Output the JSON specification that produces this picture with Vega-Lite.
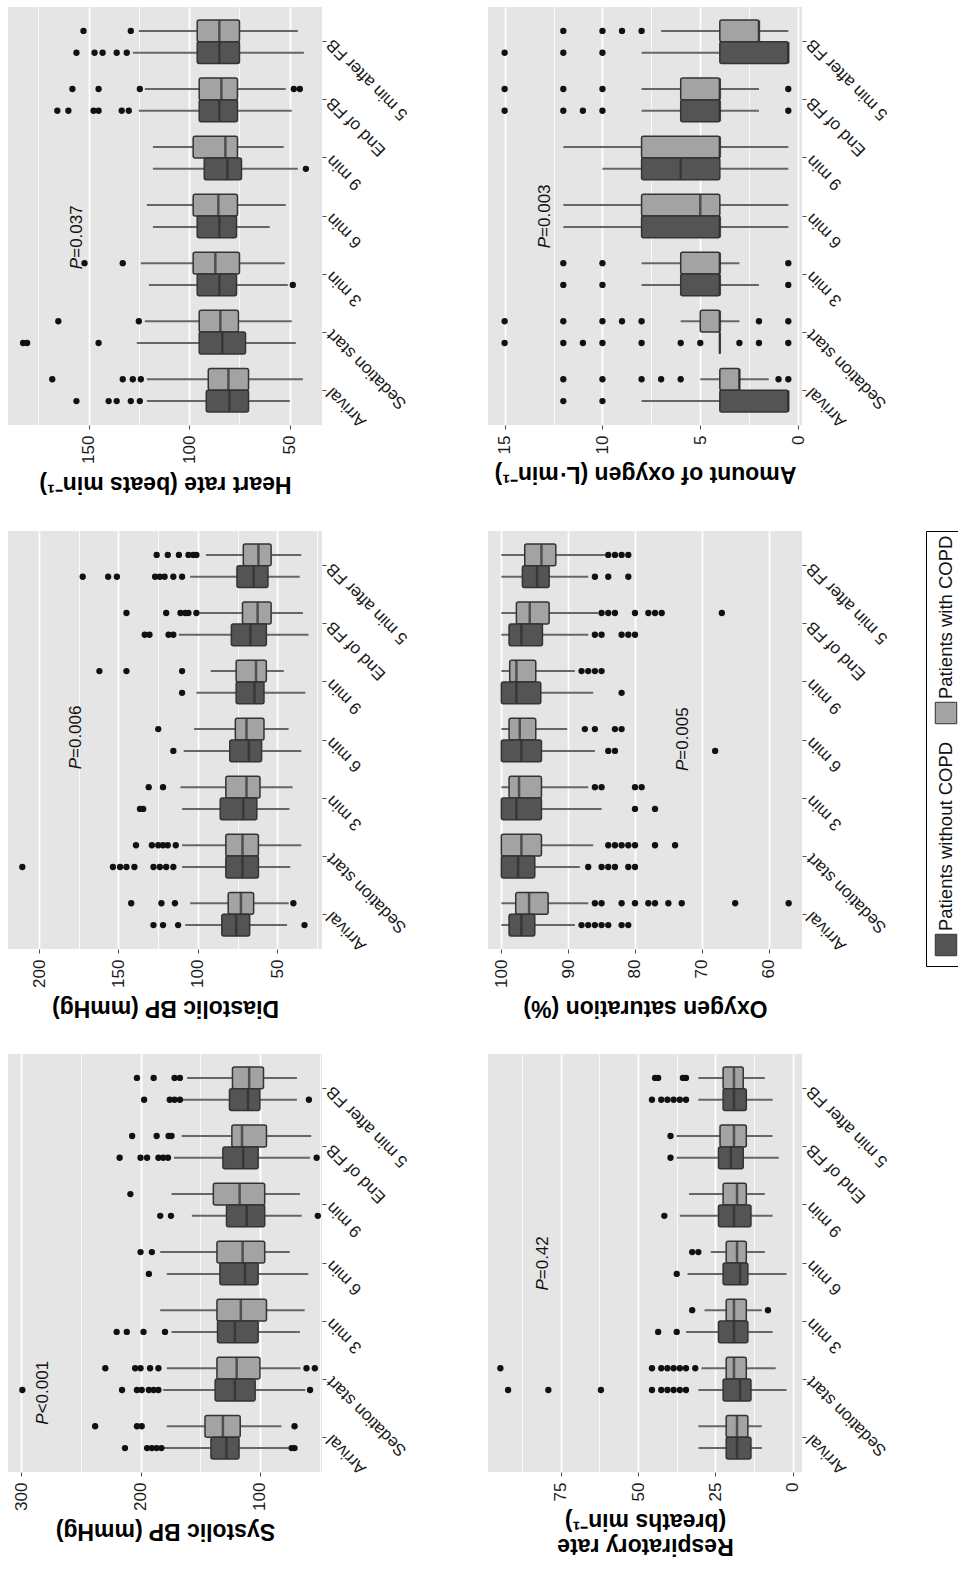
{
"$schema": "https://vega.github.io/schema/vega-lite/v6.json",
"background": "white",
"padding": {"left": 8, "top": 7, "right": 0, "bottom": 30},
"datasets": {
"hr_box": [
{"t":"5 min after FB","g":"with","lo":46,"q1":75,"med":85,"q3":96,"hi":125},
{"t":"5 min after FB","g":"without","lo":43,"q1":75,"med":85,"q3":96,"hi":128},
{"t":"End of FB","g":"with","lo":52,"q1":76,"med":84,"q3":95,"hi":122},
{"t":"End of FB","g":"without","lo":49,"q1":76,"med":85,"q3":95,"hi":125},
{"t":"9 min","g":"with","lo":53,"q1":76,"med":82,"q3":98,"hi":118},
{"t":"9 min","g":"without","lo":46,"q1":74,"med":81,"q3":92.5,"hi":118},
{"t":"6 min","g":"with","lo":52,"q1":76,"med":85.5,"q3":98,"hi":121},
{"t":"6 min","g":"without","lo":60,"q1":76.5,"med":85,"q3":96,"hi":118},
{"t":"3 min","g":"with","lo":52.5,"q1":75,"med":87,"q3":98,"hi":124},
{"t":"3 min","g":"without","lo":51,"q1":76.5,"med":85,"q3":96,"hi":120},
{"t":"Sedation start","g":"with","lo":49,"q1":75.5,"med":84.5,"q3":95,"hi":122},
{"t":"Sedation start","g":"without","lo":47,"q1":72,"med":83.5,"q3":95,"hi":126},
{"t":"Arrival","g":"with","lo":43.5,"q1":70.5,"med":80.5,"q3":90.5,"hi":121},
{"t":"Arrival","g":"without","lo":50,"q1":70.5,"med":80,"q3":91.5,"hi":121}
],
"hr_out": [
{"t":"5 min after FB","g":"with","v":129},{"t":"5 min after FB","g":"with","v":152.5},
{"t":"5 min after FB","g":"without","v":131},{"t":"5 min after FB","g":"without","v":136},{"t":"5 min after FB","g":"without","v":143},{"t":"5 min after FB","g":"without","v":147},{"t":"5 min after FB","g":"without","v":156},
{"t":"End of FB","g":"with","v":124.5},{"t":"End of FB","g":"with","v":145},{"t":"End of FB","g":"with","v":158},{"t":"End of FB","g":"with","v":48},{"t":"End of FB","g":"with","v":45},
{"t":"End of FB","g":"without","v":130},{"t":"End of FB","g":"without","v":133.5},{"t":"End of FB","g":"without","v":145},{"t":"End of FB","g":"without","v":147.5},{"t":"End of FB","g":"without","v":160},{"t":"End of FB","g":"without","v":165.5},
{"t":"9 min","g":"without","v":42},
{"t":"3 min","g":"with","v":133},{"t":"3 min","g":"with","v":152},{"t":"3 min","g":"without","v":48.5},
{"t":"Sedation start","g":"with","v":125},{"t":"Sedation start","g":"with","v":165},
{"t":"Sedation start","g":"without","v":145},{"t":"Sedation start","g":"without","v":180.5},{"t":"Sedation start","g":"without","v":182.5},
{"t":"Arrival","g":"with","v":124},{"t":"Arrival","g":"with","v":128},{"t":"Arrival","g":"with","v":133},{"t":"Arrival","g":"with","v":168},
{"t":"Arrival","g":"without","v":124.5},{"t":"Arrival","g":"without","v":129},{"t":"Arrival","g":"without","v":136},{"t":"Arrival","g":"without","v":140},{"t":"Arrival","g":"without","v":156}
],
"hr_p": [{"pos":3.28,"v":155.8,"rest":"=0.037"}],
"dbp_box": [
{"t":"5 min after FB","g":"with","lo":35,"q1":54,"med":62,"q3":71.5,"hi":95},
{"t":"5 min after FB","g":"without","lo":36,"q1":56,"med":65,"q3":75.5,"hi":105},
{"t":"End of FB","g":"with","lo":34,"q1":54,"med":62.5,"q3":72,"hi":99},
{"t":"End of FB","g":"without","lo":30.5,"q1":57,"med":67,"q3":79,"hi":112},
{"t":"9 min","g":"with","lo":46,"q1":57,"med":63.5,"q3":76,"hi":92},
{"t":"9 min","g":"without","lo":32.5,"q1":58.5,"med":64.5,"q3":76,"hi":101},
{"t":"6 min","g":"with","lo":43,"q1":58.5,"med":69.5,"q3":76.5,"hi":102.5},
{"t":"6 min","g":"without","lo":35,"q1":60,"med":68,"q3":80,"hi":109},
{"t":"3 min","g":"with","lo":40.5,"q1":61,"med":69.5,"q3":82.5,"hi":111},
{"t":"3 min","g":"without","lo":42.5,"q1":63,"med":71.5,"q3":86,"hi":110},
{"t":"Sedation start","g":"with","lo":35,"q1":62,"med":72,"q3":82.5,"hi":110},
{"t":"Sedation start","g":"without","lo":42,"q1":62,"med":72,"q3":82.5,"hi":110},
{"t":"Arrival","g":"with","lo":43,"q1":65,"med":73,"q3":81,"hi":105},
{"t":"Arrival","g":"without","lo":44,"q1":67.5,"med":76,"q3":85,"hi":108}
],
"dbp_out": [
{"t":"5 min after FB","g":"with","v":101},{"t":"5 min after FB","g":"with","v":103},{"t":"5 min after FB","g":"with","v":106},{"t":"5 min after FB","g":"with","v":112},{"t":"5 min after FB","g":"with","v":119},{"t":"5 min after FB","g":"with","v":126},
{"t":"5 min after FB","g":"without","v":110},{"t":"5 min after FB","g":"without","v":115.5},{"t":"5 min after FB","g":"without","v":121},{"t":"5 min after FB","g":"without","v":124},{"t":"5 min after FB","g":"without","v":127},{"t":"5 min after FB","g":"without","v":151},{"t":"5 min after FB","g":"without","v":156.5},{"t":"5 min after FB","g":"without","v":172.5},
{"t":"End of FB","g":"with","v":101},{"t":"End of FB","g":"with","v":106},{"t":"End of FB","g":"with","v":108},{"t":"End of FB","g":"with","v":111},{"t":"End of FB","g":"with","v":120},{"t":"End of FB","g":"with","v":145},
{"t":"End of FB","g":"without","v":115.5},{"t":"End of FB","g":"without","v":118.5},{"t":"End of FB","g":"without","v":130.5},{"t":"End of FB","g":"without","v":133.5},
{"t":"9 min","g":"with","v":110},{"t":"9 min","g":"with","v":145},{"t":"9 min","g":"with","v":162},{"t":"9 min","g":"without","v":110},
{"t":"6 min","g":"with","v":125},{"t":"6 min","g":"without","v":115.5},
{"t":"3 min","g":"with","v":122},{"t":"3 min","g":"with","v":131},{"t":"3 min","g":"without","v":134.5},{"t":"3 min","g":"without","v":136.5},
{"t":"Sedation start","g":"with","v":114},{"t":"Sedation start","g":"with","v":119},{"t":"Sedation start","g":"with","v":122},{"t":"Sedation start","g":"with","v":125},{"t":"Sedation start","g":"with","v":129},{"t":"Sedation start","g":"with","v":139},
{"t":"Sedation start","g":"without","v":115.5},{"t":"Sedation start","g":"without","v":120},{"t":"Sedation start","g":"without","v":124},{"t":"Sedation start","g":"without","v":128},{"t":"Sedation start","g":"without","v":140},{"t":"Sedation start","g":"without","v":145},{"t":"Sedation start","g":"without","v":149},{"t":"Sedation start","g":"without","v":153.5},{"t":"Sedation start","g":"without","v":210.5},
{"t":"Arrival","g":"with","v":114.5},{"t":"Arrival","g":"with","v":123},{"t":"Arrival","g":"with","v":142},{"t":"Arrival","g":"with","v":40},
{"t":"Arrival","g":"without","v":112.5},{"t":"Arrival","g":"without","v":122},{"t":"Arrival","g":"without","v":128},{"t":"Arrival","g":"without","v":33}
],
"dbp_p": [{"pos":3.69,"v":176.5,"rest":"=0.006"}],
"sbp_box": [
{"t":"5 min after FB","g":"with","lo":69,"q1":97,"med":109,"q3":123,"hi":161},
{"t":"5 min after FB","g":"without","lo":69,"q1":100,"med":110,"q3":125.5,"hi":166},
{"t":"End of FB","g":"with","lo":57,"q1":94.5,"med":115,"q3":123.5,"hi":165.5},
{"t":"End of FB","g":"without","lo":58,"q1":101.5,"med":114,"q3":131,"hi":172},
{"t":"9 min","g":"with","lo":66.5,"q1":96,"med":117,"q3":139,"hi":174},
{"t":"9 min","g":"without","lo":65,"q1":96,"med":111,"q3":128,"hi":157},
{"t":"6 min","g":"with","lo":75,"q1":96,"med":114.5,"q3":136,"hi":183.5},
{"t":"6 min","g":"without","lo":59.5,"q1":101.5,"med":112.5,"q3":133.5,"hi":178},
{"t":"3 min","g":"with","lo":62.5,"q1":94.5,"med":116,"q3":136,"hi":183.5},
{"t":"3 min","g":"without","lo":66.5,"q1":101.5,"med":121,"q3":135.5,"hi":174},
{"t":"Sedation start","g":"with","lo":66,"q1":100,"med":119.5,"q3":136,"hi":178},
{"t":"Sedation start","g":"without","lo":62,"q1":104,"med":121,"q3":137.5,"hi":181},
{"t":"Arrival","g":"with","lo":82,"q1":116.5,"med":131,"q3":146,"hi":178},
{"t":"Arrival","g":"without","lo":76,"q1":117.5,"med":128,"q3":141,"hi":181}
],
"sbp_out": [
{"t":"5 min after FB","g":"with","v":167},{"t":"5 min after FB","g":"with","v":171.5},{"t":"5 min after FB","g":"with","v":189},{"t":"5 min after FB","g":"with","v":203},
{"t":"5 min after FB","g":"without","v":59},{"t":"5 min after FB","g":"without","v":167},{"t":"5 min after FB","g":"without","v":171.5},{"t":"5 min after FB","g":"without","v":175.5},{"t":"5 min after FB","g":"without","v":197},
{"t":"End of FB","g":"with","v":174},{"t":"End of FB","g":"with","v":176.5},{"t":"End of FB","g":"with","v":186.5},{"t":"End of FB","g":"with","v":207},
{"t":"End of FB","g":"without","v":52.5},{"t":"End of FB","g":"without","v":177},{"t":"End of FB","g":"without","v":181},{"t":"End of FB","g":"without","v":185},{"t":"End of FB","g":"without","v":194.5},{"t":"End of FB","g":"without","v":200},{"t":"End of FB","g":"without","v":217.5},
{"t":"9 min","g":"with","v":208.5},{"t":"9 min","g":"without","v":51.5},{"t":"9 min","g":"without","v":174.5},{"t":"9 min","g":"without","v":183.5},
{"t":"6 min","g":"with","v":190.5},{"t":"6 min","g":"with","v":200},{"t":"6 min","g":"without","v":193},
{"t":"3 min","g":"without","v":179.5},{"t":"3 min","g":"without","v":197.5},{"t":"3 min","g":"without","v":211.5},{"t":"3 min","g":"without","v":220},
{"t":"Sedation start","g":"with","v":54},{"t":"Sedation start","g":"with","v":61},{"t":"Sedation start","g":"with","v":185},{"t":"Sedation start","g":"with","v":192},{"t":"Sedation start","g":"with","v":200},{"t":"Sedation start","g":"with","v":204.5},{"t":"Sedation start","g":"with","v":229.5},
{"t":"Sedation start","g":"without","v":58},{"t":"Sedation start","g":"without","v":185},{"t":"Sedation start","g":"without","v":189},{"t":"Sedation start","g":"without","v":193},{"t":"Sedation start","g":"without","v":199},{"t":"Sedation start","g":"without","v":203},{"t":"Sedation start","g":"without","v":215.5},{"t":"Sedation start","g":"without","v":299},
{"t":"Arrival","g":"with","v":71},{"t":"Arrival","g":"with","v":199},{"t":"Arrival","g":"with","v":203},{"t":"Arrival","g":"with","v":238},
{"t":"Arrival","g":"without","v":71},{"t":"Arrival","g":"without","v":73.5},{"t":"Arrival","g":"without","v":182.5},{"t":"Arrival","g":"without","v":186.5},{"t":"Arrival","g":"without","v":190.5},{"t":"Arrival","g":"without","v":194.5},{"t":"Arrival","g":"without","v":213}
],
"sbp_p": [{"pos":1.41,"v":282,"rest":"<0.001"}],
"o2_box": [
{"t":"5 min after FB","g":"with","lo":0.5,"q1":2,"med":2,"q3":4,"hi":7},
{"t":"5 min after FB","g":"without","lo":0.5,"q1":0.5,"med":0.5,"q3":4,"hi":8},
{"t":"End of FB","g":"with","lo":2,"q1":4,"med":4,"q3":6,"hi":8},
{"t":"End of FB","g":"without","lo":2,"q1":4,"med":4,"q3":6,"hi":8},
{"t":"9 min","g":"with","lo":0.5,"q1":4,"med":4,"q3":8,"hi":12},
{"t":"9 min","g":"without","lo":0.5,"q1":4,"med":6,"q3":8,"hi":10},
{"t":"6 min","g":"with","lo":0.5,"q1":4,"med":5,"q3":8,"hi":12},
{"t":"6 min","g":"without","lo":0.5,"q1":4,"med":4,"q3":8,"hi":12},
{"t":"3 min","g":"with","lo":3,"q1":4,"med":4,"q3":6,"hi":8},
{"t":"3 min","g":"without","lo":2,"q1":4,"med":4,"q3":6,"hi":8},
{"t":"Sedation start","g":"with","lo":3,"q1":4,"med":4,"q3":5,"hi":6},
{"t":"Sedation start","g":"without","lo":4,"q1":4,"med":4,"q3":4,"hi":4},
{"t":"Arrival","g":"with","lo":1.5,"q1":3,"med":3,"q3":4,"hi":5},
{"t":"Arrival","g":"without","lo":0.5,"q1":0.5,"med":0.5,"q3":4,"hi":8}
],
"o2_out": [
{"t":"5 min after FB","g":"with","v":8},{"t":"5 min after FB","g":"with","v":9},{"t":"5 min after FB","g":"with","v":10},{"t":"5 min after FB","g":"with","v":12},
{"t":"5 min after FB","g":"without","v":10},{"t":"5 min after FB","g":"without","v":12},{"t":"5 min after FB","g":"without","v":15},
{"t":"End of FB","g":"with","v":0.5},{"t":"End of FB","g":"with","v":10},{"t":"End of FB","g":"with","v":12},{"t":"End of FB","g":"with","v":15},
{"t":"End of FB","g":"without","v":0.5},{"t":"End of FB","g":"without","v":10},{"t":"End of FB","g":"without","v":11},{"t":"End of FB","g":"without","v":12},{"t":"End of FB","g":"without","v":15},
{"t":"3 min","g":"with","v":0.5},{"t":"3 min","g":"with","v":10},{"t":"3 min","g":"with","v":12},
{"t":"3 min","g":"without","v":0.5},{"t":"3 min","g":"without","v":10},{"t":"3 min","g":"without","v":12},
{"t":"Sedation start","g":"with","v":0.5},{"t":"Sedation start","g":"with","v":2},{"t":"Sedation start","g":"with","v":8},{"t":"Sedation start","g":"with","v":9},{"t":"Sedation start","g":"with","v":10},{"t":"Sedation start","g":"with","v":12},{"t":"Sedation start","g":"with","v":15},
{"t":"Sedation start","g":"without","v":0.5},{"t":"Sedation start","g":"without","v":2},{"t":"Sedation start","g":"without","v":3},{"t":"Sedation start","g":"without","v":5},{"t":"Sedation start","g":"without","v":6},{"t":"Sedation start","g":"without","v":8},{"t":"Sedation start","g":"without","v":10},{"t":"Sedation start","g":"without","v":11},{"t":"Sedation start","g":"without","v":12},{"t":"Sedation start","g":"without","v":15},
{"t":"Arrival","g":"with","v":0.5},{"t":"Arrival","g":"with","v":1},{"t":"Arrival","g":"with","v":6},{"t":"Arrival","g":"with","v":7},{"t":"Arrival","g":"with","v":8},{"t":"Arrival","g":"with","v":10},{"t":"Arrival","g":"with","v":12},
{"t":"Arrival","g":"without","v":10},{"t":"Arrival","g":"without","v":12}
],
"o2_p": [{"pos":3.64,"v":12.95,"rest":"=0.003"}],
"spo2_box": [
{"t":"5 min after FB","g":"with","lo":84.5,"q1":91.85,"med":94,"q3":96.5,"hi":100},
{"t":"5 min after FB","g":"without","lo":87,"q1":92.85,"med":94.65,"q3":96.85,"hi":100},
{"t":"End of FB","g":"with","lo":85.5,"q1":92.85,"med":95.75,"q3":97.75,"hi":100},
{"t":"End of FB","g":"without","lo":87,"q1":93.85,"med":97,"q3":98.85,"hi":100},
{"t":"9 min","g":"with","lo":89,"q1":94.85,"med":97.75,"q3":98.75,"hi":100},
{"t":"9 min","g":"without","lo":86.25,"q1":94.1,"med":97.75,"q3":100,"hi":100},
{"t":"6 min","g":"with","lo":90.15,"q1":94.85,"med":97.25,"q3":98.85,"hi":100},
{"t":"6 min","g":"without","lo":86,"q1":94,"med":97,"q3":100,"hi":100},
{"t":"3 min","g":"with","lo":87,"q1":94,"med":97.35,"q3":98.85,"hi":100},
{"t":"3 min","g":"without","lo":85,"q1":94,"med":97.75,"q3":100,"hi":100},
{"t":"Sedation start","g":"with","lo":86.25,"q1":94,"med":97,"q3":100,"hi":100},
{"t":"Sedation start","g":"without","lo":88.25,"q1":95,"med":97.5,"q3":100,"hi":100},
{"t":"Arrival","g":"with","lo":87,"q1":93,"med":95.85,"q3":97.85,"hi":100},
{"t":"Arrival","g":"without","lo":89,"q1":95,"med":97,"q3":98.85,"hi":100}
],
"spo2_out": [
{"t":"5 min after FB","g":"with","v":81},{"t":"5 min after FB","g":"with","v":82},{"t":"5 min after FB","g":"with","v":83},{"t":"5 min after FB","g":"with","v":84},
{"t":"5 min after FB","g":"without","v":81},{"t":"5 min after FB","g":"without","v":84},{"t":"5 min after FB","g":"without","v":86},
{"t":"End of FB","g":"with","v":67},{"t":"End of FB","g":"with","v":76},{"t":"End of FB","g":"with","v":77},{"t":"End of FB","g":"with","v":78},{"t":"End of FB","g":"with","v":80},{"t":"End of FB","g":"with","v":83},{"t":"End of FB","g":"with","v":84},{"t":"End of FB","g":"with","v":85},
{"t":"End of FB","g":"without","v":80},{"t":"End of FB","g":"without","v":81},{"t":"End of FB","g":"without","v":82},{"t":"End of FB","g":"without","v":85},{"t":"End of FB","g":"without","v":86},
{"t":"9 min","g":"with","v":85},{"t":"9 min","g":"with","v":86},{"t":"9 min","g":"with","v":87},{"t":"9 min","g":"with","v":88},{"t":"9 min","g":"without","v":82},
{"t":"6 min","g":"with","v":82},{"t":"6 min","g":"with","v":83},{"t":"6 min","g":"with","v":86},{"t":"6 min","g":"with","v":87.5},
{"t":"6 min","g":"without","v":68},{"t":"6 min","g":"without","v":83},{"t":"6 min","g":"without","v":84},
{"t":"3 min","g":"with","v":79},{"t":"3 min","g":"with","v":80},{"t":"3 min","g":"with","v":85},{"t":"3 min","g":"with","v":86},
{"t":"3 min","g":"without","v":77},{"t":"3 min","g":"without","v":80},
{"t":"Sedation start","g":"with","v":74},{"t":"Sedation start","g":"with","v":77},{"t":"Sedation start","g":"with","v":80},{"t":"Sedation start","g":"with","v":81},{"t":"Sedation start","g":"with","v":82},{"t":"Sedation start","g":"with","v":83},{"t":"Sedation start","g":"with","v":84},
{"t":"Sedation start","g":"without","v":80},{"t":"Sedation start","g":"without","v":81},{"t":"Sedation start","g":"without","v":83},{"t":"Sedation start","g":"without","v":84},{"t":"Sedation start","g":"without","v":85},{"t":"Sedation start","g":"without","v":87},
{"t":"Arrival","g":"with","v":57},{"t":"Arrival","g":"with","v":65},{"t":"Arrival","g":"with","v":73},{"t":"Arrival","g":"with","v":75},{"t":"Arrival","g":"with","v":77},{"t":"Arrival","g":"with","v":78},{"t":"Arrival","g":"with","v":80},{"t":"Arrival","g":"with","v":82},{"t":"Arrival","g":"with","v":85},{"t":"Arrival","g":"with","v":86},
{"t":"Arrival","g":"without","v":81},{"t":"Arrival","g":"without","v":82},{"t":"Arrival","g":"without","v":84},{"t":"Arrival","g":"without","v":85},{"t":"Arrival","g":"without","v":86},{"t":"Arrival","g":"without","v":87},{"t":"Arrival","g":"without","v":88}
],
"spo2_p": [{"pos":3.66,"v":72.75,"rest":"=0.005"}],
"rr_box": [
{"t":"5 min after FB","g":"with","lo":9,"q1":16,"med":19,"q3":22.5,"hi":30.5},
{"t":"5 min after FB","g":"without","lo":6.5,"q1":15,"med":19,"q3":22.5,"hi":30.5},
{"t":"End of FB","g":"with","lo":6.5,"q1":15,"med":19,"q3":23.5,"hi":37.5},
{"t":"End of FB","g":"without","lo":4.5,"q1":16,"med":20,"q3":24,"hi":37.5},
{"t":"9 min","g":"with","lo":9,"q1":15,"med":18,"q3":22.5,"hi":33.5},
{"t":"9 min","g":"without","lo":6.5,"q1":13.5,"med":19,"q3":24,"hi":36.5},
{"t":"6 min","g":"with","lo":9,"q1":15,"med":18,"q3":21.5,"hi":26.5},
{"t":"6 min","g":"without","lo":2,"q1":14.5,"med":17,"q3":22.5,"hi":34},
{"t":"3 min","g":"with","lo":10,"q1":15,"med":19,"q3":21.5,"hi":28.5},
{"t":"3 min","g":"without","lo":6.5,"q1":14.5,"med":19,"q3":24,"hi":34.5},
{"t":"Sedation start","g":"with","lo":5.5,"q1":15,"med":19,"q3":21.5,"hi":29.5},
{"t":"Sedation start","g":"without","lo":2,"q1":13.5,"med":17,"q3":22.5,"hi":30.5},
{"t":"Arrival","g":"with","lo":10,"q1":14.5,"med":18,"q3":21.5,"hi":30.5},
{"t":"Arrival","g":"without","lo":10,"q1":13.5,"med":18,"q3":21.5,"hi":30.5}
],
"rr_out": [
{"t":"5 min after FB","g":"with","v":34.5},{"t":"5 min after FB","g":"with","v":35.5},{"t":"5 min after FB","g":"with","v":43.5},{"t":"5 min after FB","g":"with","v":44.5},
{"t":"5 min after FB","g":"without","v":34.5},{"t":"5 min after FB","g":"without","v":36.5},{"t":"5 min after FB","g":"without","v":38.5},{"t":"5 min after FB","g":"without","v":40.5},{"t":"5 min after FB","g":"without","v":42.5},{"t":"5 min after FB","g":"without","v":45.5},
{"t":"End of FB","g":"with","v":39.5},{"t":"End of FB","g":"without","v":39.5},
{"t":"9 min","g":"without","v":41.5},
{"t":"6 min","g":"with","v":30.5},{"t":"6 min","g":"with","v":32.5},{"t":"6 min","g":"without","v":37.5},
{"t":"3 min","g":"with","v":8},{"t":"3 min","g":"with","v":32.5},{"t":"3 min","g":"without","v":37.5},{"t":"3 min","g":"without","v":43.5},
{"t":"Sedation start","g":"with","v":31.5},{"t":"Sedation start","g":"with","v":34.5},{"t":"Sedation start","g":"with","v":36.5},{"t":"Sedation start","g":"with","v":38.5},{"t":"Sedation start","g":"with","v":40.5},{"t":"Sedation start","g":"with","v":42.5},{"t":"Sedation start","g":"with","v":45.5},{"t":"Sedation start","g":"with","v":94.5},
{"t":"Sedation start","g":"without","v":34.5},{"t":"Sedation start","g":"without","v":36.5},{"t":"Sedation start","g":"without","v":38.5},{"t":"Sedation start","g":"without","v":40.5},{"t":"Sedation start","g":"without","v":42.5},{"t":"Sedation start","g":"without","v":45.5},{"t":"Sedation start","g":"without","v":62},{"t":"Sedation start","g":"without","v":79},{"t":"Sedation start","g":"without","v":92}
],
"rr_p": [{"pos":3.72,"v":80.8,"rest":"=0.42"}],
"legend": [{"g":"with","label":"Patients with COPD"},{"g":"without","label":"Patients without COPD"}]
},
"vconcat": [
{"hconcat": [
{"width":314,"height":418,"resolve":{"scale":{"y":"independent"}},"layer":[
{"encoding":{
"y":{"field":"t","type":"nominal","scale":{"domain":["5 min after FB","End of FB","9 min","6 min","3 min","Sedation start","Arrival"],"paddingInner":0.25,"paddingOuter":0.225},"axis":{"orient":"right","title":null,"labelAngle":225,"labelAlign":"right","labelBaseline":"middle","bandPosition":0.5,"gridWidth":1.8,"labelOverlap":false,"labelPadding":3}},
"yOffset":{"field":"g","type":"nominal","scale":{"domain":["with","without"],"paddingInner":0,"paddingOuter":0}}},
"layer":[
{"data":{"name":"hr_box"},"mark":{"type":"rule","color":"#666666","strokeWidth":2},"encoding":{"x":{"field":"lo","type":"quantitative","scale":{"domain":[34,190],"reverse":true,"nice":false,"zero":false},"axis":{"orient":"bottom","values":[50,75,100,125,150,175],"labelExpr":"indexof([50,100,150], datum.value) >= 0 ? datum.label : ''","tickOpacity":{"condition":{"test":"indexof([50,100,150], datum.value) >= 0","value":1},"value":0},"gridWidth":{"condition":{"test":"indexof([50,100,150], datum.value) >= 0","value":1.8},"value":0.8},"labelAngle":270,"labelAlign":"right","labelBaseline":"middle","labelOverlap":false,"labelFlush":false,"labelPadding":6,"title":"Heart rate (beats min⁻¹)","titleAngle":180,"titleBaseline":"bottom","titlePadding":8}},"x2":{"field":"hi"}}},
{"data":{"name":"hr_box"},"mark":{"type":"bar","stroke":"#333333","strokeWidth":1.5,"cornerRadius":2},"encoding":{"x":{"field":"q1","type":"quantitative","scale":{"domain":[34,190],"reverse":true,"nice":false,"zero":false}},"x2":{"field":"q3"},"fill":{"field":"g","type":"nominal","scale":{"domain":["with","without"],"range":["#a3a3a3","#545454"]},"legend":null}}},
{"data":{"name":"hr_box"},"mark":{"type":"tick","color":"#2b2b2b","thickness":2.5,"size":21},"encoding":{"x":{"field":"med","type":"quantitative","scale":{"domain":[34,190],"reverse":true,"nice":false,"zero":false}}}},
{"data":{"name":"hr_out"},"mark":{"type":"circle","color":"#111111","size":40,"opacity":1},"encoding":{"x":{"field":"v","type":"quantitative","scale":{"domain":[34,190],"reverse":true,"nice":false,"zero":false}}}}
]},
{"data":{"name":"hr_p"},"encoding":{"x":{"field":"v","type":"quantitative","scale":{"domain":[34,190],"reverse":true,"nice":false,"zero":false}},"y":{"field":"pos","type":"quantitative","scale":{"domain":[0.4,7.6],"nice":false,"zero":false},"axis":null}},
"layer":[
{"mark":{"type":"text","text":"P","fontStyle":"italic","angle":270,"align":"right","baseline":"middle","fontSize":17,"color":"#111111"}},
{"mark":{"type":"text","angle":270,"align":"left","baseline":"middle","fontSize":17,"color":"#111111"},"encoding":{"text":{"field":"rest"}}}
]}
]},
{"width":314,"height":418,"resolve":{"scale":{"y":"independent"}},"layer":[
{"encoding":{
"y":{"field":"t","type":"nominal","scale":{"domain":["5 min after FB","End of FB","9 min","6 min","3 min","Sedation start","Arrival"],"paddingInner":0.25,"paddingOuter":0.225},"axis":{"orient":"right","title":null,"labelAngle":225,"labelAlign":"right","labelBaseline":"middle","bandPosition":0.5,"gridWidth":1.8,"labelOverlap":false,"labelPadding":3}},
"yOffset":{"field":"g","type":"nominal","scale":{"domain":["with","without"],"paddingInner":0,"paddingOuter":0}}},
"layer":[
{"data":{"name":"o2_box"},"mark":{"type":"rule","color":"#666666","strokeWidth":2},"encoding":{"x":{"field":"lo","type":"quantitative","scale":{"domain":[-0.2,15.85],"reverse":true,"nice":false,"zero":false},"axis":{"orient":"bottom","values":[0,2.5,5,7.5,10,12.5,15],"labelExpr":"indexof([0,5,10,15], datum.value) >= 0 ? datum.label : ''","tickOpacity":{"condition":{"test":"indexof([0,5,10,15], datum.value) >= 0","value":1},"value":0},"gridWidth":{"condition":{"test":"indexof([0,5,10,15], datum.value) >= 0","value":1.8},"value":0.8},"labelAngle":270,"labelAlign":"right","labelBaseline":"middle","labelOverlap":false,"labelFlush":false,"labelPadding":6,"title":"Amount of oxygen (L·min⁻¹)","titleAngle":180,"titleBaseline":"bottom","titlePadding":8}},"x2":{"field":"hi"}}},
{"data":{"name":"o2_box"},"mark":{"type":"bar","stroke":"#333333","strokeWidth":1.5,"cornerRadius":2},"encoding":{"x":{"field":"q1","type":"quantitative","scale":{"domain":[-0.2,15.85],"reverse":true,"nice":false,"zero":false}},"x2":{"field":"q3"},"fill":{"field":"g","type":"nominal","scale":{"domain":["with","without"],"range":["#a3a3a3","#545454"]},"legend":null}}},
{"data":{"name":"o2_box"},"mark":{"type":"tick","color":"#2b2b2b","thickness":2.5,"size":21},"encoding":{"x":{"field":"med","type":"quantitative","scale":{"domain":[-0.2,15.85],"reverse":true,"nice":false,"zero":false}}}},
{"data":{"name":"o2_out"},"mark":{"type":"circle","color":"#111111","size":40,"opacity":1},"encoding":{"x":{"field":"v","type":"quantitative","scale":{"domain":[-0.2,15.85],"reverse":true,"nice":false,"zero":false}}}}
]},
{"data":{"name":"o2_p"},"encoding":{"x":{"field":"v","type":"quantitative","scale":{"domain":[-0.2,15.85],"reverse":true,"nice":false,"zero":false}},"y":{"field":"pos","type":"quantitative","scale":{"domain":[0.4,7.6],"nice":false,"zero":false},"axis":null}},
"layer":[
{"mark":{"type":"text","text":"P","fontStyle":"italic","angle":270,"align":"right","baseline":"middle","fontSize":17,"color":"#111111"}},
{"mark":{"type":"text","angle":270,"align":"left","baseline":"middle","fontSize":17,"color":"#111111"},"encoding":{"text":{"field":"rest"}}}
]}
]}
],"spacing":77},
{"hconcat": [
{"width":314,"height":418,"resolve":{"scale":{"y":"independent"}},"layer":[
{"encoding":{
"y":{"field":"t","type":"nominal","scale":{"domain":["5 min after FB","End of FB","9 min","6 min","3 min","Sedation start","Arrival"],"paddingInner":0.25,"paddingOuter":0.225},"axis":{"orient":"right","title":null,"labelAngle":225,"labelAlign":"right","labelBaseline":"middle","bandPosition":0.5,"gridWidth":1.8,"labelOverlap":false,"labelPadding":3}},
"yOffset":{"field":"g","type":"nominal","scale":{"domain":["with","without"],"paddingInner":0,"paddingOuter":0}}},
"layer":[
{"data":{"name":"dbp_box"},"mark":{"type":"rule","color":"#666666","strokeWidth":2},"encoding":{"x":{"field":"lo","type":"quantitative","scale":{"domain":[22,219.5],"reverse":true,"nice":false,"zero":false},"axis":{"orient":"bottom","values":[25,50,75,100,125,150,175,200],"labelExpr":"indexof([50,100,150,200], datum.value) >= 0 ? datum.label : ''","tickOpacity":{"condition":{"test":"indexof([50,100,150,200], datum.value) >= 0","value":1},"value":0},"gridWidth":{"condition":{"test":"indexof([50,100,150,200], datum.value) >= 0","value":1.8},"value":0.8},"labelAngle":270,"labelAlign":"right","labelBaseline":"middle","labelOverlap":false,"labelFlush":false,"labelPadding":6,"title":"Diastolic BP (mmHg)","titleAngle":180,"titleBaseline":"bottom","titlePadding":8}},"x2":{"field":"hi"}}},
{"data":{"name":"dbp_box"},"mark":{"type":"bar","stroke":"#333333","strokeWidth":1.5,"cornerRadius":2},"encoding":{"x":{"field":"q1","type":"quantitative","scale":{"domain":[22,219.5],"reverse":true,"nice":false,"zero":false}},"x2":{"field":"q3"},"fill":{"field":"g","type":"nominal","scale":{"domain":["with","without"],"range":["#a3a3a3","#545454"]},"legend":null}}},
{"data":{"name":"dbp_box"},"mark":{"type":"tick","color":"#2b2b2b","thickness":2.5,"size":21},"encoding":{"x":{"field":"med","type":"quantitative","scale":{"domain":[22,219.5],"reverse":true,"nice":false,"zero":false}}}},
{"data":{"name":"dbp_out"},"mark":{"type":"circle","color":"#111111","size":40,"opacity":1},"encoding":{"x":{"field":"v","type":"quantitative","scale":{"domain":[22,219.5],"reverse":true,"nice":false,"zero":false}}}}
]},
{"data":{"name":"dbp_p"},"encoding":{"x":{"field":"v","type":"quantitative","scale":{"domain":[22,219.5],"reverse":true,"nice":false,"zero":false}},"y":{"field":"pos","type":"quantitative","scale":{"domain":[0.4,7.6],"nice":false,"zero":false},"axis":null}},
"layer":[
{"mark":{"type":"text","text":"P","fontStyle":"italic","angle":270,"align":"right","baseline":"middle","fontSize":17,"color":"#111111"}},
{"mark":{"type":"text","angle":270,"align":"left","baseline":"middle","fontSize":17,"color":"#111111"},"encoding":{"text":{"field":"rest"}}}
]}
]},
{"hconcat": [
{"width":314,"height":418,"resolve":{"scale":{"y":"independent"}},"layer":[
{"encoding":{
"y":{"field":"t","type":"nominal","scale":{"domain":["5 min after FB","End of FB","9 min","6 min","3 min","Sedation start","Arrival"],"paddingInner":0.25,"paddingOuter":0.225},"axis":{"orient":"right","title":null,"labelAngle":225,"labelAlign":"right","labelBaseline":"middle","bandPosition":0.5,"gridWidth":1.8,"labelOverlap":false,"labelPadding":3}},
"yOffset":{"field":"g","type":"nominal","scale":{"domain":["with","without"],"paddingInner":0,"paddingOuter":0}}},
"layer":[
{"data":{"name":"spo2_box"},"mark":{"type":"rule","color":"#666666","strokeWidth":2},"encoding":{"x":{"field":"lo","type":"quantitative","scale":{"domain":[55,102],"reverse":true,"nice":false,"zero":false},"axis":{"orient":"bottom","values":[60,65,70,75,80,85,90,95,100],"labelExpr":"indexof([60,70,80,90,100], datum.value) >= 0 ? datum.label : ''","tickOpacity":{"condition":{"test":"indexof([60,70,80,90,100], datum.value) >= 0","value":1},"value":0},"gridWidth":{"condition":{"test":"indexof([60,70,80,90,100], datum.value) >= 0","value":1.8},"value":0.8},"labelAngle":270,"labelAlign":"right","labelBaseline":"middle","labelOverlap":false,"labelFlush":false,"labelPadding":6,"title":"Oxygen saturation (%)","titleAngle":180,"titleBaseline":"bottom","titlePadding":8}},"x2":{"field":"hi"}}},
{"data":{"name":"spo2_box"},"mark":{"type":"bar","stroke":"#333333","strokeWidth":1.5,"cornerRadius":2},"encoding":{"x":{"field":"q1","type":"quantitative","scale":{"domain":[55,102],"reverse":true,"nice":false,"zero":false}},"x2":{"field":"q3"},"fill":{"field":"g","type":"nominal","scale":{"domain":["with","without"],"range":["#a3a3a3","#545454"]},"legend":null}}},
{"data":{"name":"spo2_box"},"mark":{"type":"tick","color":"#2b2b2b","thickness":2.5,"size":21},"encoding":{"x":{"field":"med","type":"quantitative","scale":{"domain":[55,102],"reverse":true,"nice":false,"zero":false}}}},
{"data":{"name":"spo2_out"},"mark":{"type":"circle","color":"#111111","size":40,"opacity":1},"encoding":{"x":{"field":"v","type":"quantitative","scale":{"domain":[55,102],"reverse":true,"nice":false,"zero":false}}}}
]},
{"data":{"name":"spo2_p"},"encoding":{"x":{"field":"v","type":"quantitative","scale":{"domain":[55,102],"reverse":true,"nice":false,"zero":false}},"y":{"field":"pos","type":"quantitative","scale":{"domain":[0.4,7.6],"nice":false,"zero":false},"axis":null}},
"layer":[
{"mark":{"type":"text","text":"P","fontStyle":"italic","angle":270,"align":"right","baseline":"middle","fontSize":17,"color":"#111111"}},
{"mark":{"type":"text","angle":270,"align":"left","baseline":"middle","fontSize":17,"color":"#111111"},"encoding":{"text":{"field":"rest"}}}
]}
]},
{"width":40,"height":435,"view":{"fill":"white","stroke":"black","strokeWidth":1},
"data":{"name":"legend"},
"encoding":{"y":{"field":"g","type":"nominal","scale":{"type":"point","domain":["with","without"],"padding":0.4375,"align":0.8966},"axis":null}},
"layer":[
{"mark":{"type":"square","size":460,"opacity":1,"stroke":"#333333","strokeWidth":1},"encoding":{"fill":{"field":"g","type":"nominal","scale":{"domain":["with","without"],"range":["#a3a3a3","#545454"]},"legend":null}}},
{"mark":{"type":"text","angle":270,"align":"left","baseline":"middle","dx":14,"fontSize":18.5,"color":"#111111"},"encoding":{"text":{"field":"label"}}}
]}
],"spacing":34}
],"spacing":77},
{"hconcat": [
{"width":314,"height":418,"resolve":{"scale":{"y":"independent"}},"layer":[
{"encoding":{
"y":{"field":"t","type":"nominal","scale":{"domain":["5 min after FB","End of FB","9 min","6 min","3 min","Sedation start","Arrival"],"paddingInner":0.25,"paddingOuter":0.225},"axis":{"orient":"right","title":null,"labelAngle":225,"labelAlign":"right","labelBaseline":"middle","bandPosition":0.5,"gridWidth":1.8,"labelOverlap":false,"labelPadding":3}},
"yOffset":{"field":"g","type":"nominal","scale":{"domain":["with","without"],"paddingInner":0,"paddingOuter":0}}},
"layer":[
{"data":{"name":"sbp_box"},"mark":{"type":"rule","color":"#666666","strokeWidth":2},"encoding":{"x":{"field":"lo","type":"quantitative","scale":{"domain":[48,311],"reverse":true,"nice":false,"zero":false},"axis":{"orient":"bottom","values":[50,100,150,200,250,300],"labelExpr":"indexof([100,200,300], datum.value) >= 0 ? datum.label : ''","tickOpacity":{"condition":{"test":"indexof([100,200,300], datum.value) >= 0","value":1},"value":0},"gridWidth":{"condition":{"test":"indexof([100,200,300], datum.value) >= 0","value":1.8},"value":0.8},"labelAngle":270,"labelAlign":"right","labelBaseline":"middle","labelOverlap":false,"labelFlush":false,"labelPadding":6,"title":"Systolic BP (mmHg)","titleAngle":180,"titleBaseline":"bottom","titlePadding":8}},"x2":{"field":"hi"}}},
{"data":{"name":"sbp_box"},"mark":{"type":"bar","stroke":"#333333","strokeWidth":1.5,"cornerRadius":2},"encoding":{"x":{"field":"q1","type":"quantitative","scale":{"domain":[48,311],"reverse":true,"nice":false,"zero":false}},"x2":{"field":"q3"},"fill":{"field":"g","type":"nominal","scale":{"domain":["with","without"],"range":["#a3a3a3","#545454"]},"legend":null}}},
{"data":{"name":"sbp_box"},"mark":{"type":"tick","color":"#2b2b2b","thickness":2.5,"size":21},"encoding":{"x":{"field":"med","type":"quantitative","scale":{"domain":[48,311],"reverse":true,"nice":false,"zero":false}}}},
{"data":{"name":"sbp_out"},"mark":{"type":"circle","color":"#111111","size":40,"opacity":1},"encoding":{"x":{"field":"v","type":"quantitative","scale":{"domain":[48,311],"reverse":true,"nice":false,"zero":false}}}}
]},
{"data":{"name":"sbp_p"},"encoding":{"x":{"field":"v","type":"quantitative","scale":{"domain":[48,311],"reverse":true,"nice":false,"zero":false}},"y":{"field":"pos","type":"quantitative","scale":{"domain":[0.4,7.6],"nice":false,"zero":false},"axis":null}},
"layer":[
{"mark":{"type":"text","text":"P","fontStyle":"italic","angle":270,"align":"right","baseline":"middle","fontSize":17,"color":"#111111"}},
{"mark":{"type":"text","angle":270,"align":"left","baseline":"middle","fontSize":17,"color":"#111111"},"encoding":{"text":{"field":"rest"}}}
]}
]},
{"width":314,"height":418,"resolve":{"scale":{"y":"independent"}},"layer":[
{"encoding":{
"y":{"field":"t","type":"nominal","scale":{"domain":["5 min after FB","End of FB","9 min","6 min","3 min","Sedation start","Arrival"],"paddingInner":0.25,"paddingOuter":0.225},"axis":{"orient":"right","title":null,"labelAngle":225,"labelAlign":"right","labelBaseline":"middle","bandPosition":0.5,"gridWidth":1.8,"labelOverlap":false,"labelPadding":3}},
"yOffset":{"field":"g","type":"nominal","scale":{"domain":["with","without"],"paddingInner":0,"paddingOuter":0}}},
"layer":[
{"data":{"name":"rr_box"},"mark":{"type":"rule","color":"#666666","strokeWidth":2},"encoding":{"x":{"field":"lo","type":"quantitative","scale":{"domain":[-3,98.5],"reverse":true,"nice":false,"zero":false},"axis":{"orient":"bottom","values":[0,12.5,25,37.5,50,62.5,75,87.5],"labelExpr":"indexof([0,25,50,75], datum.value) >= 0 ? datum.label : ''","tickOpacity":{"condition":{"test":"indexof([0,25,50,75], datum.value) >= 0","value":1},"value":0},"gridWidth":{"condition":{"test":"indexof([0,25,50,75], datum.value) >= 0","value":1.8},"value":0.8},"labelAngle":270,"labelAlign":"right","labelBaseline":"middle","labelOverlap":false,"labelFlush":false,"labelPadding":6,"title":["(breaths min⁻¹)","Respiratory rate"],"titleLineHeight":-25,"titleAngle":180,"titleBaseline":"bottom","titlePadding":8}},"x2":{"field":"hi"}}},
{"data":{"name":"rr_box"},"mark":{"type":"bar","stroke":"#333333","strokeWidth":1.5,"cornerRadius":2},"encoding":{"x":{"field":"q1","type":"quantitative","scale":{"domain":[-3,98.5],"reverse":true,"nice":false,"zero":false}},"x2":{"field":"q3"},"fill":{"field":"g","type":"nominal","scale":{"domain":["with","without"],"range":["#a3a3a3","#545454"]},"legend":null}}},
{"data":{"name":"rr_box"},"mark":{"type":"tick","color":"#2b2b2b","thickness":2.5,"size":21},"encoding":{"x":{"field":"med","type":"quantitative","scale":{"domain":[-3,98.5],"reverse":true,"nice":false,"zero":false}}}},
{"data":{"name":"rr_out"},"mark":{"type":"circle","color":"#111111","size":40,"opacity":1},"encoding":{"x":{"field":"v","type":"quantitative","scale":{"domain":[-3,98.5],"reverse":true,"nice":false,"zero":false}}}}
]},
{"data":{"name":"rr_p"},"encoding":{"x":{"field":"v","type":"quantitative","scale":{"domain":[-3,98.5],"reverse":true,"nice":false,"zero":false}},"y":{"field":"pos","type":"quantitative","scale":{"domain":[0.4,7.6],"nice":false,"zero":false},"axis":null}},
"layer":[
{"mark":{"type":"text","text":"P","fontStyle":"italic","angle":270,"align":"right","baseline":"middle","fontSize":17,"color":"#111111"}},
{"mark":{"type":"text","angle":270,"align":"left","baseline":"middle","fontSize":17,"color":"#111111"},"encoding":{"text":{"field":"rest"}}}
]}
]}
],"spacing":77}
],
"spacing":35,
"config": {
"view": {"fill": "#e5e5e5", "stroke": null},
"font": "Liberation Sans",
"axis": {"domain": false, "tickColor": "#4d4d4d", "tickSize": 4, "tickWidth": 1, "labelColor": "#1a1a1a", "labelFontSize": 17, "labelFont": "Liberation Sans", "gridColor": "#ffffff", "titleFont": "Liberation Sans", "titleFontSize": 23, "titleFontWeight": "bold", "titleColor": "#000000"},
"text": {"font": "Liberation Sans"}
}
}
